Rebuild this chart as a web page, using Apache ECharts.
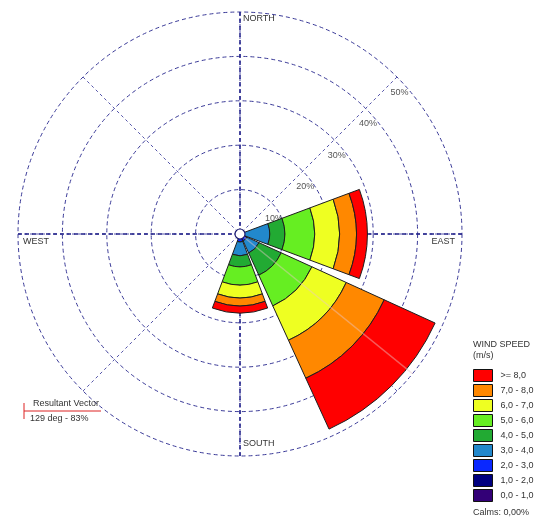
<!DOCTYPE html>
<html>
<head>
<meta charset="utf-8">
<script src="https://cdn.jsdelivr.net/npm/echarts@6/dist/echarts.min.js"></script>
<style>
  html, body { margin: 0; padding: 0; background: #ffffff; }
  #chart { width: 535px; height: 521px; }
</style>
</head>
<body>
<div id="chart"></div>
<script>
// Wind rose: frequency (%) of wind per direction, stacked by speed class
const directions = ['N', 'NE', 'E', 'SE', 'S', 'SW', 'W', 'NW'];
const speedBins = ['0,0 - 1,0', '1,0 - 2,0', '2,0 - 3,0', '3,0 - 4,0', '4,0 - 5,0',
                   '5,0 - 6,0', '6,0 - 7,0', '7,0 - 8,0', '>= 8,0'];
const binColors = ['#330077', '#000080', '#0a28ff', '#2288cc', '#22aa33',
                   '#66ee22', '#eeff22', '#ff8800', '#ff0000'];

// one array per speed class, values in the order of `directions`
const speed0to1 = [0, 0, 0,   0,    0,   0, 0, 0];
const speed1to2 = [0, 0, 0.4, 0.8,  1.0, 0, 0, 0];
const speed2to3 = [0, 0, 0.6, 0.9,  0.8, 0, 0, 0];
const speed3to4 = [0, 0, 5.7, 3.0,  3.1, 0, 0, 0];
const speed4to5 = [0, 0, 3.4, 5.5,  2.5, 0, 0, 0];
const speed5to6 = [0, 0, 6.7, 7.6,  4.1, 0, 0, 0];
const speed6to7 = [0, 0, 5.6, 8.5,  2.9, 0, 0, 0];
const speed7to8 = [0, 0, 3.8, 9.4,  1.8, 0, 0, 0];
const speedOver8 = [0, 0, 2.5, 12.6, 1.6, 0, 0, 0];

const ringTicks = [10, 20, 30, 40, 50];
const resultantDeg = 129;
const resultantPct = 83;
const calmsText = 'Calms: 0,00%';

const speedSeries = [speed0to1, speed1to2, speed2to3, speed3to4, speed4to5,
                     speed5to6, speed6to7, speed7to8, speedOver8];

const CX = 240, CY = 234, R = 222;
const FONT = '"Liberation Sans", Arial, sans-serif';
const TEXT = '#333333';
const GRID = '#3a3a98';

const chart = echarts.init(document.getElementById('chart'), null, { renderer: 'canvas' });

const hiddenAxis = {
  axisLine: { show: false }, axisTick: { show: false },
  axisLabel: { show: false }, splitLine: { show: false }, splitArea: { show: false }
};

const bars = speedSeries.map((vals, i) => ({
  name: speedBins[i],
  type: 'bar',
  coordinateSystem: 'polar',
  polarIndex: 0,
  stack: 'wind',
  barCategoryGap: '9%',
  data: vals,
  itemStyle: { color: binColors[i], borderColor: '#1e1e1e', borderWidth: 1 },
  emphasis: { disabled: true },
  animation: false,
  z: 2
}));

const option = {
  animation: false,
  backgroundColor: '#ffffff',
  polar: [
    { center: [CX, CY], radius: [0, R] },
    { center: [CX, CY], radius: [0, R] },
    { center: [CX, CY], radius: [0, R] }
  ],
  angleAxis: [
    // petals: one band per direction, N centred at the top
    Object.assign({ polarIndex: 0, type: 'category', data: directions,
      startAngle: 112.5, clockwise: true }, hiddenAxis),
    // eight dashed spokes, radius labels along the NE spoke
    { polarIndex: 1, type: 'value', min: 0, max: 360, interval: 45, startAngle: 45,
      clockwise: true,
      axisLine: { show: false }, axisTick: { show: false }, axisLabel: { show: false },
      splitLine: { show: true, lineStyle: { color: '#5555aa', width: 1, type: [3, 3] } } },
    // compass angles (0 = north): heavier cardinal spokes and the resultant vector
    { polarIndex: 2, type: 'value', min: 0, max: 360, interval: 90, startAngle: 90,
      clockwise: true,
      axisLine: { show: false }, axisTick: { show: false }, axisLabel: { show: false },
      splitLine: { show: true, lineStyle: { color: '#1f1f88', width: 1.5, type: [4, 3] } } }
  ],
  radiusAxis: [
    Object.assign({ polarIndex: 0, type: 'value', min: 0, max: 50 }, hiddenAxis),
    { polarIndex: 1, type: 'value', min: 0, max: 50, interval: 10,
      axisLine: { show: false }, axisTick: { show: false },
      axisLabel: {
        show: true, margin: 0, align: 'center', verticalAlign: 'top',
        padding: [11, 0, 0, 5],
        fontFamily: FONT, fontSize: 9, color: '#555555',
        formatter: v => (ringTicks.indexOf(v) >= 0 ? v + '%' : '')
      },
      splitLine: { show: true, lineStyle: { color: GRID, width: 1, type: [4, 3] } } },
    Object.assign({ polarIndex: 2, type: 'value', min: 0, max: 50 }, hiddenAxis)
  ],
  legend: {
    orient: 'vertical', left: 473, top: 369, padding: 0,
    itemWidth: 19, itemHeight: 12, itemGap: 2,
    icon: 'rect', selectedMode: false, z: 8,
    data: speedBins.slice().reverse(),
    itemStyle: { borderColor: '#111111', borderWidth: 1 },
    textStyle: { fontFamily: FONT, fontSize: 9, lineHeight: 11, color: TEXT, padding: [0, 0, 0, 3] }
  },
  series: bars.concat([{
    name: 'Resultant Vector',
    type: 'line',
    coordinateSystem: 'polar',
    polarIndex: 2,
    data: [[0, resultantDeg], [resultantPct, resultantDeg]],
    symbol: 'none',
    clip: false,
    silent: true,
    lineStyle: { color: 'rgba(236,200,200,0.45)', width: 1.5 },
    z: 3
  }]),
  graphic: [
    // calm circle at the centre
    { type: 'circle', shape: { cx: CX, cy: CY, r: 5 }, z: 10,
      style: { fill: '#ffffff', stroke: '#1a1a70', lineWidth: 1.2 } },
    // cardinal labels
    { type: 'text', x: CX + 3, y: CY - R + 7, z: 10,
      style: { text: 'NORTH', font: '9px ' + FONT, fill: TEXT, textVerticalAlign: 'middle' } },
    { type: 'text', x: CX + 3, y: CY + R - 12, z: 10,
      style: { text: 'SOUTH', font: '9px ' + FONT, fill: TEXT, textVerticalAlign: 'middle' } },
    { type: 'text', x: CX - R + 5, y: CY + 8, z: 10,
      style: { text: 'WEST', font: '9px ' + FONT, fill: TEXT, textVerticalAlign: 'middle' } },
    { type: 'text', x: CX + R - 7, y: CY + 8, z: 10,
      style: { text: 'EAST', font: '9px ' + FONT, fill: TEXT, textAlign: 'right', textVerticalAlign: 'middle' } },
    // legend panel
    { type: 'rect', shape: { x: 463, y: 336, width: 72, height: 185 }, z: 6,
      style: { fill: '#ffffff' } },
    { type: 'text', x: 473, y: 345, z: 9,
      style: { text: 'WIND SPEED', font: '9px ' + FONT, fill: TEXT, textVerticalAlign: 'middle' } },
    { type: 'text', x: 473, y: 356, z: 9,
      style: { text: '(m/s)', font: '9px ' + FONT, fill: TEXT, textVerticalAlign: 'middle' } },
    { type: 'text', x: 473, y: 513, z: 9,
      style: { text: calmsText, font: '9px ' + FONT, fill: TEXT, textVerticalAlign: 'middle' } },
    // resultant vector key
    { type: 'line', shape: { x1: 24, y1: 403, x2: 24, y2: 419 }, z: 9,
      style: { stroke: '#dd2222', lineWidth: 1 } },
    { type: 'line', shape: { x1: 24, y1: 411, x2: 101, y2: 411 }, z: 9,
      style: { stroke: '#dd2222', lineWidth: 1 } },
    { type: 'text', x: 33, y: 404, z: 9,
      style: { text: 'Resultant Vector', font: '9px ' + FONT, fill: TEXT, textVerticalAlign: 'middle' } },
    { type: 'text', x: 30, y: 419, z: 9,
      style: { text: resultantDeg + ' deg - ' + resultantPct + '%', font: '9px ' + FONT, fill: TEXT, textVerticalAlign: 'middle' } }
  ]
};

chart.setOption(option);
</script>
</body>
</html>
